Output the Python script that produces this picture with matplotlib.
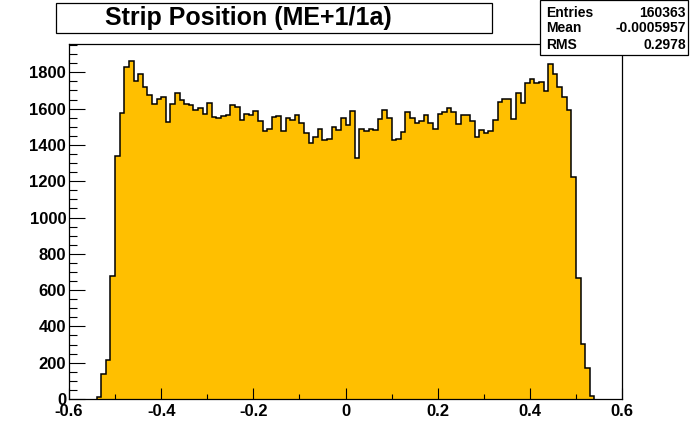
import numpy as np
import matplotlib
matplotlib.use('Agg')
from matplotlib import pyplot as plt
from matplotlib.patches import Rectangle
from matplotlib.ticker import MultipleLocator

plt.rcParams['font.family'] = ['Liberation Sans', 'DejaVu Sans']
plt.rcParams['font.weight'] = 'bold'

# histogram: 0.01 wide bins from -0.54 to 0.54
x_lo = -0.54
bin_w = 0.01
counts = [
    9, 138, 215, 678, 1338, 1577, 1829, 1862, 1752, 1790,
    1719, 1675, 1625, 1653, 1664, 1526, 1625, 1686, 1645, 1627,
    1621, 1591, 1605, 1569, 1631, 1552, 1547, 1558, 1563, 1618,
    1609, 1536, 1569, 1563, 1587, 1530, 1475, 1486, 1554, 1557,
    1475, 1546, 1535, 1563, 1519, 1464, 1409, 1444, 1486, 1427,
    1431, 1499, 1480, 1548, 1508, 1585, 1326, 1486, 1475, 1486,
    1480, 1541, 1590, 1548, 1425, 1431, 1469, 1579, 1548, 1519,
    1530, 1563, 1519, 1486, 1568, 1579, 1601, 1579, 1513, 1563,
    1563, 1530, 1444, 1480, 1464, 1475, 1535, 1635, 1655, 1655,
    1541, 1684, 1629, 1740, 1765, 1740, 1745, 1695, 1844, 1789,
    1717, 1662, 1591, 1223, 665, 301, 169, 15,
]
edges = x_lo + bin_w * np.arange(len(counts) + 1)

title = 'Strip Position (ME+1/1a)'
stat_names = ['Entries', 'Mean', 'RMS']
stat_values = ['160363', '-0.0005957', '0.2978']

W, H = 692, 444
fig = plt.figure(figsize=(W / 100, H / 100), dpi=100)
fig.patch.set_facecolor('white')

ax = fig.add_axes([69 / W, 1 - 399 / H, (622 - 69) / W, (399 - 44) / H])
ax.stairs(counts, edges, fill=True, color='#ffbf00', baseline=0)
ax.stairs(counts, edges, fill=False, color='black', linewidth=1.1, baseline=0)

ax.set_xlim(-0.6, 0.6)
ax.set_ylim(0, 1956)

ax.xaxis.set_major_locator(MultipleLocator(0.2))
ax.xaxis.set_minor_locator(MultipleLocator(0.1))
ax.yaxis.set_major_locator(MultipleLocator(200))
ax.yaxis.set_minor_locator(MultipleLocator(50))
ax.xaxis.set_major_formatter(lambda v, p: '0' if abs(v) < 1e-9 else f'{v:g}')

ax.tick_params(axis='both', which='both', direction='in', width=0.8,
               top=False, right=False, labelsize=12)
ax.tick_params(axis='y', which='major', length=11.5, pad=2)
ax.tick_params(axis='y', which='minor', length=5.8)
ax.tick_params(axis='x', which='major', length=8, pad=3.5)
ax.tick_params(axis='x', which='minor', length=3.6)
for lab in ax.get_xticklabels() + ax.get_yticklabels():
    lab.set_fontweight('bold')
for s in ax.spines.values():
    s.set_linewidth(0.9)

# title box
fig.patches.append(Rectangle((56 / W, 1 - 33 / H), (492 - 56) / W, 30 / H,
                             transform=fig.transFigure, facecolor='white',
                             edgecolor='black', linewidth=0.9))
fig.text(105 / W, 1 - 25.5 / H, title, fontsize=18, fontweight='bold',
         va='baseline', ha='left')

# stats box
fig.patches.append(Rectangle((540 / W, 1 - 55 / H), (688 - 540) / W, 54.5 / H,
                             transform=fig.transFigure, facecolor='white',
                             edgecolor='black', linewidth=0.9, zorder=5))
rows_y = [12.8, 28.0, 44.7]
for name, val, yy in zip(stat_names, stat_values, rows_y):
    fig.text(546 / W, 1 - yy / H, name, fontsize=10, fontweight='bold',
             va='center', ha='left', zorder=6)
    fig.text(686 / W, 1 - yy / H, val, fontsize=10, fontweight='bold',
             va='center', ha='right', zorder=6)

fig.savefig('out.png', dpi=100, facecolor='white')
